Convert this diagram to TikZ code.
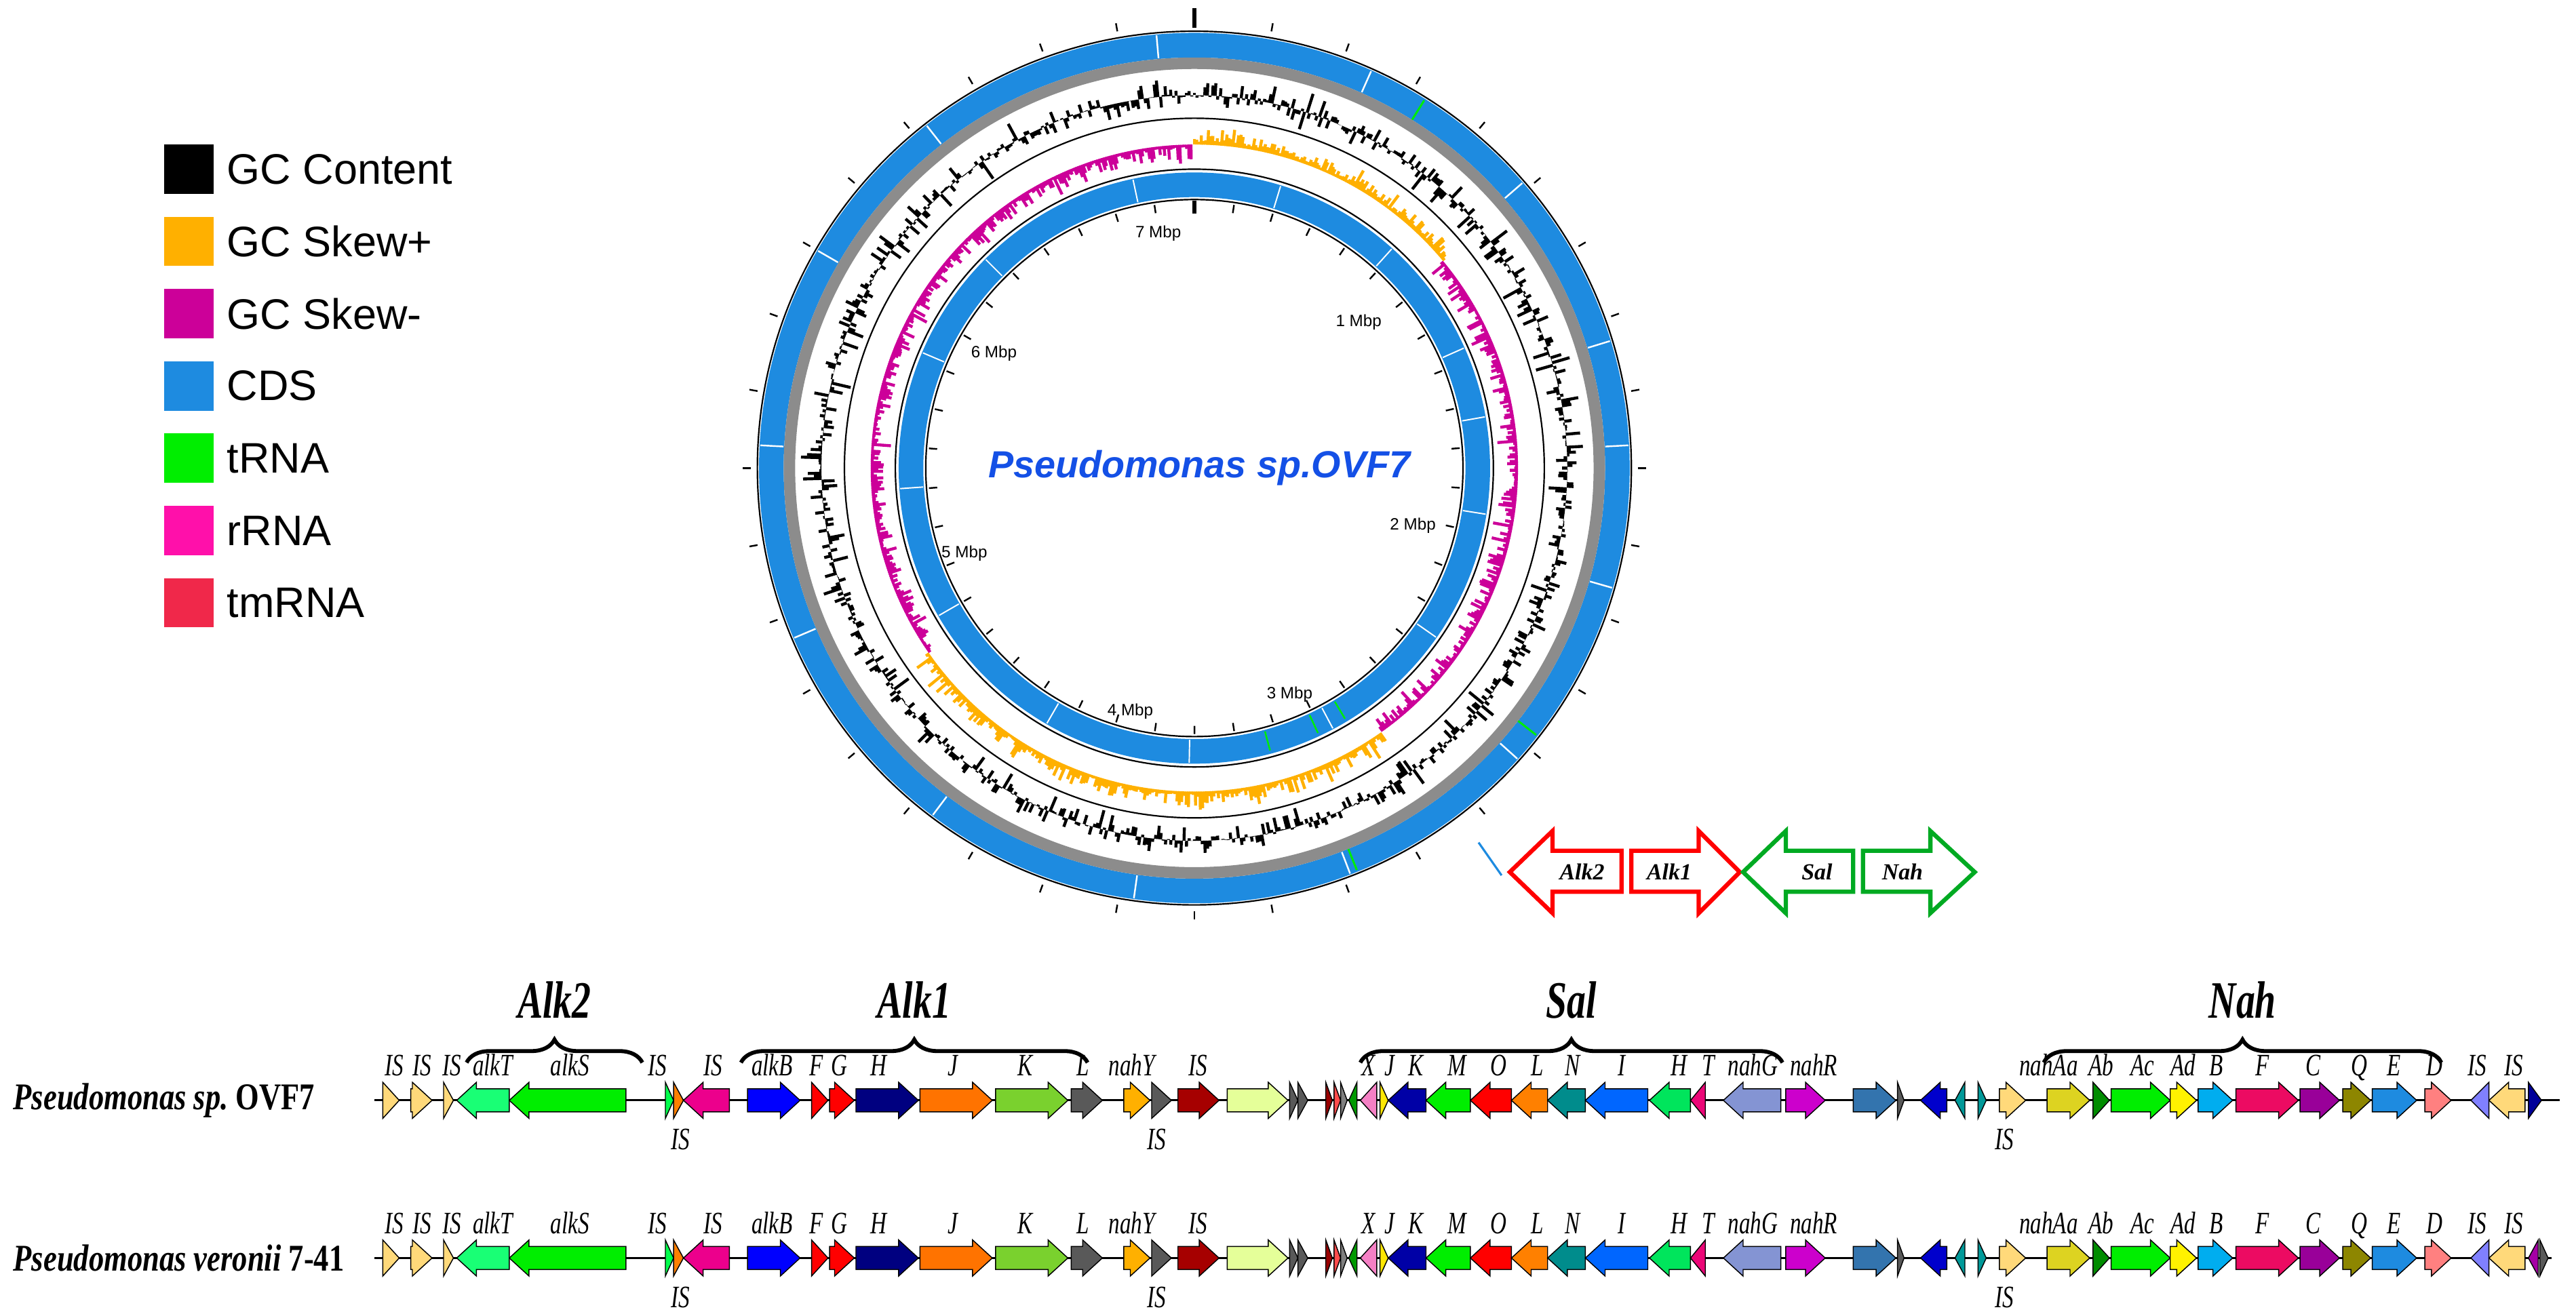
\documentclass[tikz,border=0pt]{standalone}
\usepackage{fontspec}
\setmainfont{Liberation Serif}
\newfontfamily\arialf{Liberation Sans}
\usetikzlibrary{decorations.pathreplacing}
\definecolor{cds}{HTML}{1E8BE0}
\definecolor{isy}{HTML}{FFD97A}
\definecolor{skp}{HTML}{FFB000}
\definecolor{skm}{HTML}{CC0099}
\definecolor{trna}{HTML}{00EE00}
\definecolor{rrna}{HTML}{FF10AA}
\definecolor{tmrna}{HTML}{F0284A}
\definecolor{grayring}{HTML}{8C8C8C}
\definecolor{titleblue}{HTML}{1450E6}
\definecolor{lred}{HTML}{FF0000}
\definecolor{lgreen}{HTML}{00AA22}
\tikzset{
  genebox/.style={draw=black,line width=0.6pt,line join=miter},
  glab/.style={font=\fontsize{19}{19}\selectfont\itshape,inner sep=0pt,xscale=0.72,transform shape},
  brlab/.style={font=\fontsize{32}{32}\selectfont\bfseries\itshape,inner sep=0pt,xscale=0.72,transform shape},
  legtxt/.style={font=\arialf\fontsize{26}{26}\selectfont,anchor=west,inner sep=0pt},
  mbp/.style={font=\arialf\fontsize{10}{10}\selectfont,inner sep=0pt},
  bigarrow/.style={line width=2.6pt,line join=miter},
  biglab/.style={font=\fontsize{14}{14}\selectfont\bfseries\itshape,inner sep=0pt},
  rowlab/.style={font=\fontsize{23}{23}\selectfont\bfseries\itshape,anchor=west,inner sep=0pt,xscale=0.8,transform shape},
}
\newcommand\gy{0}
\newcommand\gene[4]{%
  \pgfmathsetmacro\hl{min(12,#2-#1)}%
  \ifnum#3>0
    \filldraw[genebox,fill=#4] (#1,\gy+7) -- ({#2-\hl},\gy+7) -- ({#2-\hl},\gy+11) -- (#2,\gy) -- ({#2-\hl},\gy-11) -- ({#2-\hl},\gy-7) -- (#1,\gy-7) -- cycle;
  \else
    \filldraw[genebox,fill=#4] (#2,\gy+7) -- ({#1+\hl},\gy+7) -- ({#1+\hl},\gy+11) -- (#1,\gy) -- ({#1+\hl},\gy-11) -- ({#1+\hl},\gy-7) -- (#2,\gy-7) -- cycle;
  \fi}
\newcommand\commongenes{%
  \gene{233}{243}{1}{isy}\gene{250}{263}{1}{isy}\gene{270}{276}{1}{isy}
  \gene{278}{310}{-1}{green!60!cyan!90!white}\gene{310}{381}{-1}{trna}
  \gene{405}{410}{1}{green!70!cyan}\gene{410}{416}{1}{orange}
  \gene{416}{444}{-1}{magenta}\gene{455}{487}{1}{blue}
  \gene{494}{504}{1}{red}\gene{505}{520}{1}{red}
  \gene{521}{559}{1}{blue!50!black}\gene{560}{604}{1}{orange!90!red}
  \gene{606}{650}{1}{green!40!gray!60!lime}\gene{652}{671}{1}{gray!70!black}
  \gene{684}{700}{1}{skp}\gene{701}{713}{1}{gray!70!black}
  \gene{717}{742}{1}{red!65!black}\gene{747}{784}{1}{lime!40!white}
  \gene{785}{790}{1}{gray!70!black}\gene{790}{796}{1}{gray!70!black}
  \gene{807}{811}{1}{red!60!black}\gene{812}{816}{1}{red!70}\gene{816}{820}{1}{gray}
  \gene{821}{826}{-1}{green!60!black}
  \gene{828}{838}{-1}{magenta!50!white}\gene{840}{845}{1}{yellow!90!orange}
  \gene{845}{868}{-1}{blue!65!black}\gene{868}{895}{-1}{trna}
  \gene{895}{920}{-1}{red}\gene{920}{942}{-1}{orange}
  \gene{942}{965}{-1}{teal!90!cyan}\gene{965}{1003}{-1}{blue!60!cyan}
  \gene{1004}{1029}{-1}{green!60!cyan!90!black}\gene{1029}{1038}{-1}{magenta!80!red}
  \gene{1049}{1084}{-1}{cyan!30!blue!50!white}\gene{1087}{1111}{1}{violet!40!magenta}
  \gene{1128}{1154}{1}{cyan!60!blue!80!black}\gene{1155}{1159}{1}{gray!70!black}
  \gene{1169}{1185}{-1}{blue!80!black}\gene{1190}{1196}{-1}{teal!80!cyan}
  \gene{1204}{1209}{1}{teal!80!cyan}\gene{1217}{1233}{1}{isy}
  \gene{1246}{1272}{1}{yellow!85!black}\gene{1274}{1284}{1}{green!55!black}
  \gene{1285}{1321}{1}{trna}\gene{1321}{1337}{1}{yellow}
  \gene{1338}{1359}{1}{cyan}\gene{1361}{1399}{1}{magenta!60!red}
  \gene{1400}{1424}{1}{violet!80!magenta}\gene{1426}{1443}{1}{olive}
  \gene{1444}{1471}{1}{cds}\gene{1476}{1492}{1}{red!50!white}
  \gene{1504}{1515}{-1}{blue!50!white}\gene{1515}{1537}{-1}{isy}}
\newcommand\genelabels[2]{%
  \foreach \x/\t [count=\i] in {240/IS,257/IS,275/IS,300/alkT,347/alkS,400/IS,434/IS,470/alkB,497/F,511/G,535/H,580/J,624/K,659/L,689/nahY,729/IS,833/X,846/J,862/K,887/M,912/O,936/L,957/N,987/I,1022/H,1040/T,1067/nahG,1104/nahR,1247/nahAa,1279/Ab,1304/Ac,1329/Ad,1349/B,1377/F,1408/C,1436/Q,1457/E,1482/D,1508/IS,1530/IS}
    \node[glab,anchor=base] (#2t\i) at (\x,#1+15) {\t};
  \foreach \x [count=\i] in {414,704,1220}
    \node[glab,anchor=base] (#2b\i) at (\x,#1-30) {IS};}
\begin{document}
\begin{tikzpicture}[x=1pt,y=1pt]
\useasboundingbox (0,0) rectangle (1568,-800);
% legend
\foreach \c/\t [count=\i] in {black/GC Content,skp/GC Skew+,skm/GC Skew-,cds/CDS,trna/tRNA,rrna/rRNA,tmrna/tmRNA}{
  \fill[\c] (100,{-88-44*(\i-1)}) rectangle (130,{-118-44*(\i-1)});
  \node[legtxt] (leg\i) at (138,{-103-44*(\i-1)}) {\t};}
% circular map
\begin{scope}[shift={(727,-285)}]
  \pgfmathsetseed{11}
  \draw[line width=15pt,cds] (0,0) circle (257.5);
  \draw[line width=15pt,cds] (0,0) circle (172.5);
  \foreach \a in {3,17,41,66,95,128,150,177,203,233,262,291,318,344}{
    \draw[white,line width=1pt] (\a:250.5) -- (\a:264.5);
    \draw[white,line width=0.8pt] (\a+7:165.5) -- (\a+7:179.5);}
  \foreach \a in {58,292,322}{\draw[trna,line width=1.2pt] (\a:250) -- (\a:264);}
  \foreach \a in {285,301,-65}{\draw[trna,line width=1pt] (\a:166) -- (\a:178);}
  \draw[line width=7pt,grayring] (0,0) circle (246.5);
  \draw[line width=0.9pt] (0,0) circle (266);
  \draw[line width=0.9pt] (0,0) circle (213);
  \draw[line width=0.9pt] (0,0) circle (182);
  \draw[line width=0.9pt] (0,0) circle (163.5);
  % GC content
  \foreach \c in {0,0.4,...,359.6}{
    \pgfmathsetmacro\h{12*rand*abs(rand)+3*rand}
    \draw[line width=1.8pt] ({90-\c}:227) -- ({90-\c}:{227+\h});}
  % GC skew
  \foreach \c in {0,0.4,...,50,145,145.4,...,235}{
    \pgfmathsetmacro\h{1.5+12*abs(rand)*abs(rand)}
    \draw[skp,line width=1.8pt] ({90-\c}:197) -- ({90-\c}:{197+\h});}
  \foreach \c in {50.4,50.8,...,144.8,235.4,235.8,...,359.6}{
    \pgfmathsetmacro\h{1.5+12*abs(rand)*abs(rand)}
    \draw[skm,line width=1.8pt] ({90-\c}:197) -- ({90-\c}:{197-\h});}
  % ticks
  \foreach \a in {10,20,...,350}{\draw[line width=1pt] ({90-\a}:270) -- ({90-\a}:275);}
  \draw[line width=2.2pt] (90:268) -- (90:280);
  \foreach \k in {1,...,41}{\draw[line width=1pt] ({90-8.57*\k}:157) -- ({90-8.57*\k}:162);}
  \draw[line width=2.2pt] (90:155) -- (90:163);
\end{scope}
\node[mbp] (m7) at (705,-142) {7 Mbp};
\node[mbp] (m1) at (827,-196) {1 Mbp};
\node[mbp] (m2) at (860,-320) {2 Mbp};
\node[mbp] (m3) at (785,-423) {3 Mbp};
\node[mbp] (m4) at (688,-433) {4 Mbp};
\node[mbp] (m5) at (587,-337) {5 Mbp};
\node[mbp] (m6) at (605,-215) {6 Mbp};
\node[font=\arialf\fontsize{23}{23}\selectfont\bfseries\itshape,text=titleblue] (title) at (730,-285) {Pseudomonas sp.OVF7};
% block arrows
\coordinate (bl1) at (900,-513); \coordinate (bl2) at (914,-533);
\draw[cds,line width=1.3pt] (bl1) -- (bl2);
\draw[bigarrow,lred] (987,-518) -- (945,-518) -- (945,-506) -- (919,-531) -- (945,-556) -- (945,-543) -- (987,-543) -- cycle;
\node[biglab] (aA2) at (963,-531) {Alk2};
\draw[bigarrow,lred] (993,-518) -- (1034,-518) -- (1034,-506) -- (1059,-531) -- (1034,-556) -- (1034,-543) -- (993,-543) -- cycle;
\node[biglab] (aA1) at (1016,-531) {Alk1};
\draw[bigarrow,lgreen] (1128,-518) -- (1087,-518) -- (1087,-506) -- (1061,-531) -- (1087,-556) -- (1087,-543) -- (1128,-543) -- cycle;
\node[biglab] (aS) at (1106,-531) {Sal};
\draw[bigarrow,lgreen] (1134,-518) -- (1175,-518) -- (1175,-506) -- (1202,-531) -- (1175,-556) -- (1175,-543) -- (1134,-543) -- cycle;
\node[biglab] (aN) at (1158,-531) {Nah};
% braces
\foreach \a/\b/\t/\n in {284/391/Alk2/bA2,451/662/Alk1/bA1,828/1085/Sal/bS,1244/1486/Nah/bN}{
  \draw[line width=2.4pt,decorate,decoration={brace,amplitude=14pt}] (\a,-647) -- (\b,-647);
  \node[brlab,anchor=base] (\n) at ({(\a+\b)/2},-620) {\t};}
% row 1
\node[rowlab] (r1) at (8,-670) {Pseudomonas sp.\ \upshape OVF7};
\draw[line width=1.2pt] (228,-670) -- (1558,-670);
\renewcommand\gy{-670}
\commongenes
\gene{1539}{1547}{1}{blue!60!black}
\genelabels{-670}{ra}
% row 2
\node[rowlab] (r2) at (8,-766) {Pseudomonas veronii \upshape 7-41};
\draw[line width=1.2pt] (228,-766) -- (1553,-766);
\renewcommand\gy{-766}
\commongenes
\gene{1539}{1545}{-1}{violet!70!magenta}\gene{1546}{1551}{1}{gray!70!black}
\genelabels{-766}{rb}
\end{tikzpicture}
\end{document}
